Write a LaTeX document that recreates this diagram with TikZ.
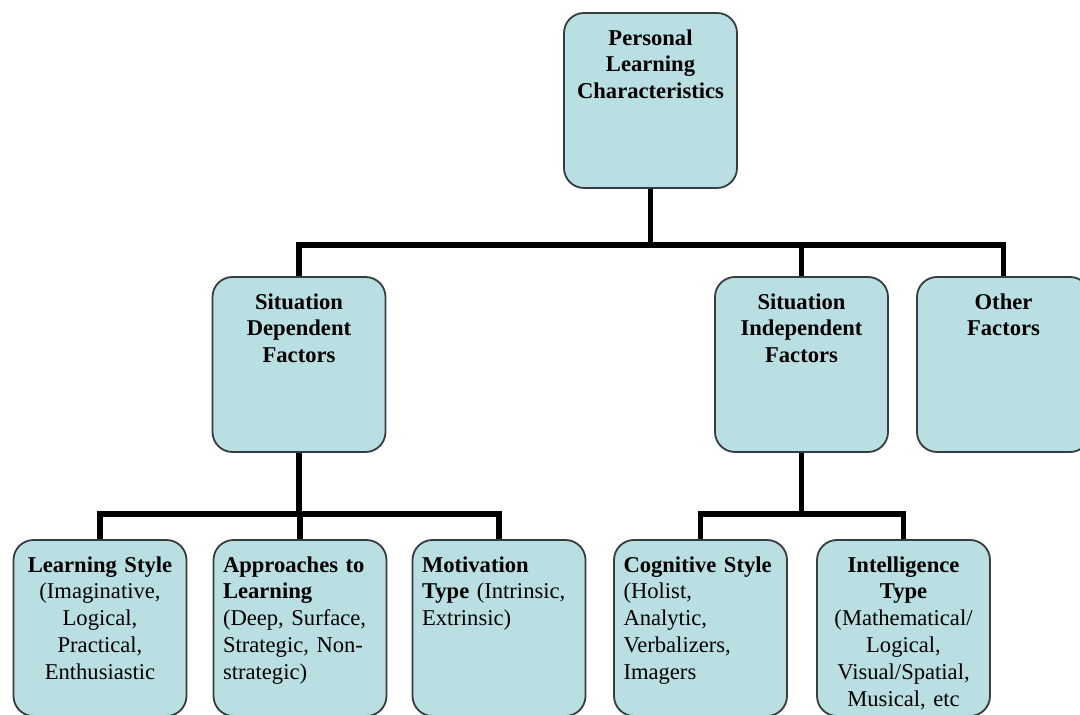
\documentclass[tikz,border=0pt]{standalone}
\usepackage{fontspec}
\setmainfont{Liberation Serif}
\usepackage{tikz}
\usetikzlibrary{positioning}
\usetikzlibrary{calc}

\definecolor{factorblue}{RGB}{185,223,227}
\definecolor{factorline}{RGB}{55,60,62}

\tikzset{
  factor/.style={draw=factorline, fill=factorblue, rounded corners=10pt, line width=0.9pt,
    minimum width=86.5pt, minimum height=87.5pt, inner sep=0pt},
  lowfactor/.style={factor, minimum height=88pt},
  lbl/.style={font=\fontsize{11.3}{13.4}\selectfont, inner sep=0pt, text width=78pt,
    align=center, anchor=north},
  lbll/.style={lbl, align=left, anchor=north west},
  link/.style={line width=2.8pt}
}

\begin{document}
\begin{tikzpicture}[x=0.5pt, y=-0.5pt]

\clip (0,0) rectangle (1080,715);

%top level
\node[factor] (plc) at (650.5,100.5) {};
\node[lbl] (plc-t) at ([yshift=-8.5pt]plc.north) {\textbf{Personal}\\\textbf{Learning}\\\textbf{Characteristics}};

%second level
\node[factor] (sdf) at (299,364.5) {};
\node[lbl] (sdf-t) at ([yshift=-8.5pt]sdf.north) {\textbf{Situation}\\\textbf{Dependent}\\\textbf{Factors}};
\node[factor] (sif) at (801.5,364.5) {};
\node[lbl] (sif-t) at ([yshift=-8.5pt]sif.north) {\textbf{Situation}\\\textbf{Independent}\\\textbf{Factors}};
\node[factor] (oth) at (1003.5,364.5) {};
\node[lbl] (oth-t) at ([yshift=-8.5pt]oth.north) {\textbf{Other}\\\textbf{Factors}};

%third level
\node[lowfactor] (ls) at (100,628) {};
\node[lbl] (ls-t) at ([yshift=-8.5pt]ls.north) {\textbf{Learning Style}\\(Imaginative,\\Logical,\\Practical,\\Enthusiastic};
\node[lowfactor] (apl) at (300,628) {};
\node[lbll] (apl-t) at ([xshift=5pt,yshift=-8.5pt]apl.north west) {\textbf{Approaches to}\\\textbf{Learning}\\(Deep, Surface,\\Strategic, Non-\\strategic)};
\node[lowfactor] (mt) at (499,628) {};
\node[lbll] (mt-t) at ([xshift=5pt,yshift=-8.5pt]mt.north west) {\textbf{Motivation}\\\textbf{Type} (Intrinsic,\\Extrinsic)};
\node[lowfactor] (cs) at (700.5,628) {};
\node[lbll] (cs-t) at ([xshift=5pt,yshift=-8.5pt]cs.north west) {\textbf{Cognitive Style}\\(Holist,\\Analytic,\\Verbalizers,\\Imagers};
\node[lowfactor] (it) at (903.5,628) {};
\node[lbl] (it-t) at ([yshift=-8.5pt]it.north) {\textbf{Intelligence}\\\textbf{Type}\\(Mathematical/\\Logical,\\Visual/Spatial,\\Musical, etc};

%connectors
\coordinate (bar1) at (650.5,245);
\draw[link] (plc.south) -- (bar1);
\draw[link] (sdf.north) |- (bar1) -| (oth.north);
\draw[link] (sif.north) -- (sif.north |- bar1);

\coordinate (bar2) at (299,514);
\draw[link] (sdf.south) -- (bar2);
\draw[link] (ls.north) |- (bar2) -| (mt.north);
\draw[link] (apl.north) -- (apl.north |- bar2);

\coordinate (bar3) at (801.5,514);
\draw[link] (sif.south) -- (bar3);
\draw[link] (cs.north) |- (bar3) -| (it.north);

\end{tikzpicture}
\end{document}
